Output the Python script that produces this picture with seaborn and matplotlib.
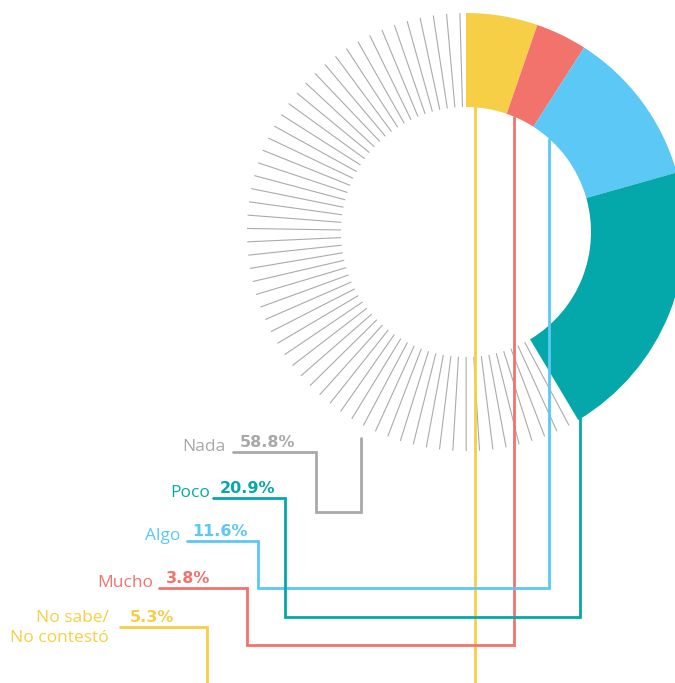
"""
Dona de opinión: Nada / Poco / Algo / Mucho / No sabe
"""

import numpy as np
import matplotlib
matplotlib.use('Agg')
import matplotlib.pyplot as plt
import seaborn as sns

sns.set_theme(style='white')
plt.rcParams['font.family'] = ['Open Sans', 'DejaVu Sans']

# datos
categories = ['No sabe/\nNo contestó', 'Mucho', 'Algo', 'Poco', 'Nada']
values = [5.3, 3.8, 11.6, 20.9, 58.8]
pct_labels = ['5.3%', '3.8%', '11.6%', '20.9%', '58.8%']
colors = ['#f6cf47', '#f2736b', '#5bc8f5', '#05a8aa', '#a9a9ab']

# geometría (px)
W, H = 675, 683
CX, CY = 466, 232
R_OUT, R_IN = 219, 125

# líneas guía: x del segmento, y de giro, x del codo, y del subrayado, x inicio subrayado,
# x fin del nombre, x inicio del porcentaje, lado del anillo
guide_x = [475, 514, 549, 580, 361]
turn_y = [700, 645, 588, 617, 512]
elbow_x = [207, 247, 258, 285, 316]
under_y = [627, 588, 541, 498, 452]
under_x0 = [120, 159, 187, 213, 233]
name_x = [109, 153, 180, 210, 225]
pct_x = [130, 166, 192, 220, 240]
ring_side = ['in', 'in', 'in', 'out', 'gap']

fig = plt.figure(figsize=(W / 100, H / 100), dpi=100)
ax = fig.add_axes([0, 0, 1, 1])

# segmentos de color (eje y invertido -> counterclock=True se ve horario)
wedges, _ = ax.pie(values, colors=colors, startangle=-90, counterclock=True,
                   center=(CX, CY), radius=R_OUT,
                   wedgeprops=dict(width=R_OUT - R_IN, linewidth=0))
wedges[-1].set_visible(False)

# "Nada" como rayas radiales
start_deg = sum(values[:-1]) / 100 * 360
phis = np.linspace(start_deg + 2.2, 358.4, 60)
for phi in phis:
    th = np.deg2rad(phi - 90)
    ax.plot([CX + R_IN * np.cos(th), CX + R_OUT * np.cos(th)],
            [CY + R_IN * np.sin(th), CY + R_OUT * np.sin(th)],
            color='#ababab', lw=0.8, solid_capstyle='butt', zorder=1)

# líneas guía y etiquetas
for i, cat in enumerate(categories):
    gx = guide_x[i]
    dx = gx - CX
    if ring_side[i] == 'in':
        y0 = CY - np.sqrt(R_IN ** 2 - dx ** 2)
    elif ring_side[i] == 'out':
        y0 = CY + np.sqrt(R_OUT ** 2 - dx ** 2) - 6
    else:
        y0 = CY + np.sqrt(R_OUT ** 2 - dx ** 2) + 14
    xs = [gx, gx, elbow_x[i], elbow_x[i], under_x0[i]]
    ys = [y0, turn_y[i], turn_y[i], under_y[i], under_y[i]]
    ax.plot(xs, ys, color=colors[i], lw=2, solid_joinstyle='miter', zorder=3)

    if '\n' in cat:
        l1, l2 = cat.split('\n')
        ax.text(name_x[i], under_y[i] - 5, l1, color=colors[i], fontsize=12.5,
                ha='right', va='baseline')
        ax.text(name_x[i], under_y[i] + 15, l2, color=colors[i], fontsize=12.5,
                ha='right', va='baseline')
    else:
        ax.text(name_x[i], under_y[i] - 1, cat, color=colors[i], fontsize=12.5,
                ha='right', va='baseline')
    ax.text(pct_x[i], under_y[i] - 5, pct_labels[i], color=colors[i], fontsize=11.5,
            ha='left', va='baseline', fontweight='bold', family=['DejaVu Sans'])

ax.set_xlim(0, W)
ax.set_ylim(H, 0)
ax.set_aspect('equal')
ax.axis('off')

fig.savefig('out.png', dpi=100, facecolor='white')
plt.close(fig)
